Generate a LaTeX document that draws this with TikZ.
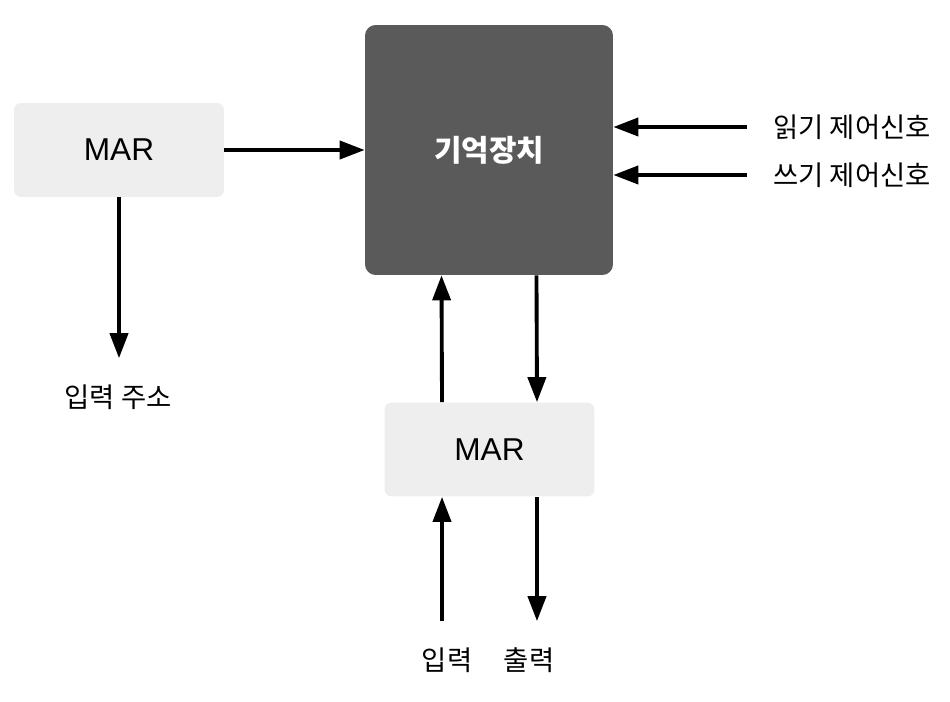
\documentclass[tikz,border=0pt]{standalone}
\usepackage{fontspec}
\setmainfont{Liberation Sans}
\newfontfamily\kr{Noto Sans CJK KR}
\usetikzlibrary{arrows.meta,positioning}
\definecolor{boxgray}{HTML}{EEEEEE}
\definecolor{memgray}{HTML}{5A5A5A}

\begin{document}
\begin{tikzpicture}[x=0.02cm, y=-0.02cm,
  reg/.style={fill=boxgray, rounded corners=4pt, minimum width=4.2cm, minimum height=1.88cm, font=\fontsize{18}{21}\selectfont},
  mem/.style={fill=memgray, rounded corners=6pt, minimum width=4.96cm, minimum height=5cm, text=white, font=\kr\bfseries\fontsize{17}{20}\selectfont},
  lbl/.style={font=\kr\fontsize{15.6}{18}\selectfont, inner sep=0pt},
  arr/.style={-{Triangle[length=0.5cm, width=0.36cm]}, line width=2.2pt}]
\useasboundingbox (0,0) rectangle (950,702);
\node[mem] (store) at (489,150) {기억장치};
\node[reg] (mar1) at (119,150) {MAR};
\node[reg] (mar2) at (489.5,449.5) {MAR};
\node[lbl] (addr) at (118,397) {입력 주소};
\node[lbl, anchor=west] (rd) at (773,127) {읽기 제어신호};
\node[lbl, anchor=west] (wr) at (773,175) {쓰기 제어신호};
\node[lbl] (inp) at (447,660) {입력};
\node[lbl] (outp) at (529,660) {출력};
\coordinate (lft) at ([xshift=-0.95cm]mar2.south);
\coordinate (rgt) at ([xshift=0.95cm]mar2.south);
\draw[arr] (mar1.east) -- (store.west);
\draw[arr] (mar1.south) -- ([yshift=0.52cm]mar1.south |- addr.north);
\draw[arr, shorten <=0.52cm] (rd.west) -- (store.east |- rd.west);
\draw[arr, shorten <=0.52cm] (wr.west) -- (store.east |- wr.west);
\draw[arr] ([xshift=-0.95cm]mar2.north) -- ([xshift=-0.95cm]store.south);
\draw[arr] ([xshift=0.95cm]store.south) -- ([xshift=0.95cm]mar2.north);
\draw[arr] ([yshift=0.52cm]lft |- inp.north) -- (lft);
\draw[arr] (rgt) -- ([yshift=0.52cm]rgt |- outp.north);
\end{tikzpicture}
\end{document}
